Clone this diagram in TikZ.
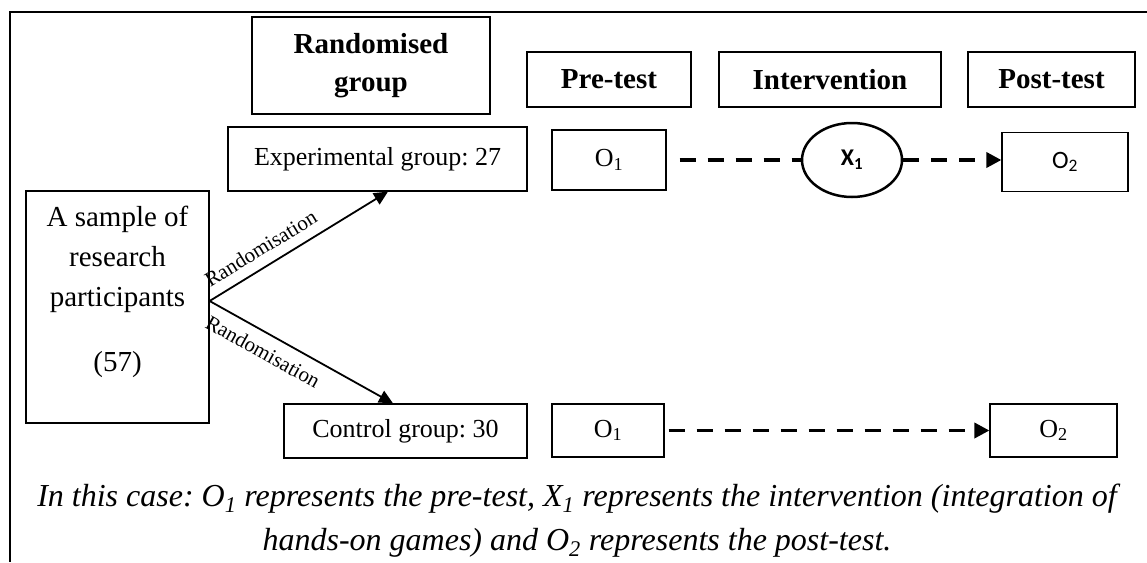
\documentclass[tikz,border=0pt]{standalone}
\usepackage{fontspec}
\setmainfont{Liberation Serif}
\newfontfamily\calibri{Carlito}
\usetikzlibrary{arrows.meta,shapes.geometric,calc}

\newcommand{\bodyfont}{\fontsize{26}{31}\selectfont}
\newcommand{\headfont}{\fontsize{29}{38}\selectfont\bfseries}

\begin{document}
\frenchspacing
\begin{tikzpicture}[x=1pt,y=-1pt,
  box/.style={draw,line width=1.2pt,inner sep=0pt,align=center},
  head/.style={box,font=\headfont},
  cell/.style={box,font=\bodyfont},
  flow/.style={line width=3.5pt,dash pattern=on 16pt off 12pt},
  split/.style={line width=1.8pt,-{Triangle[length=14pt,width=13pt]}},
  rlabel/.style={font=\fontsize{21}{22}\selectfont,sloped,inner sep=1pt},
  note/.style={font=\fontsize{32}{40}\selectfont\itshape,inner sep=0pt,anchor=base}]

\useasboundingbox (0,0) rectangle (1147,562);

% frame: top and left rules
\coordinate (ftl) at (10,12);
\coordinate (ftr) at (1147,12);
\coordinate (fbl) at (10,562);
\draw[line width=1.2pt] (ftr) -- (ftl) -- (fbl);

% column headings
\node[head,minimum width=238pt,minimum height=97pt] (rand) at (371,65.5) {Randomised\\group};
\node[head,minimum width=164pt,minimum height=55pt] (pre) at (609,79.5) {Pre-test};
\node[head,minimum width=222pt,minimum height=55pt] (intv) at (830,79.5) {Intervention};
\node[head,minimum width=167pt,minimum height=55pt] (post) at (1051.5,79.5) {Post-test};

% sample
\node[box,minimum width=183pt,minimum height=232pt] (sample) at (117.5,307) {};
\node[font=\fontsize{29}{40}\selectfont,align=center,inner sep=0pt] (sampletxt) at (117.5,292)
  {A sample of\\research\\participants\\[25pt](57)};

% experimental row
\node[cell,minimum width=299pt,minimum height=64pt] (exp) at (377.5,159) {Experimental group: 27};
\node[cell,minimum width=114pt,minimum height=60pt] (o1a) at (609,160) {O\textsubscript{1}};
\node[draw,ellipse,line width=2.5pt,minimum width=100pt,minimum height=74pt,inner sep=0pt,
      font=\calibri\bfseries\fontsize{24}{24}\selectfont] (x1) at (852,160) {X\textsubscript{1}};
\node[box,minimum width=126pt,minimum height=59pt,font=\calibri\fontsize{25}{25}\selectfont] (o2a) at (1065,162) {O\textsubscript{2}};

% control row
\node[cell,minimum width=243pt,minimum height=54pt] (ctrl) at (405.5,431) {Control group: 30};
\node[cell,minimum width=112pt,minimum height=53pt] (o1b) at (608,430.5) {O\textsubscript{1}};
\node[cell,minimum width=127pt,minimum height=53pt] (o2b) at (1053.5,430.5) {O\textsubscript{2}};

% randomisation arrows
\draw[split] ([yshift=6pt]sample.east) -- node[rlabel,pos=0.34,above=9pt] (ra) {Randomisation}
  ($(exp.south west)!0.535!(exp.south east)$);
\draw[split] ([yshift=6pt]sample.east) -- node[rlabel,pos=0.34,below=9pt] (rb) {Randomisation}
  ($(ctrl.north west)!0.449!(ctrl.north east)$);

% measurement flow
\draw[flow,shorten <=13pt] (o1a.east) -- (x1.west);
\draw[flow,-{Triangle[length=15pt,width=15pt]}] (x1.east) -- (o2a.west |- x1.east);
\draw[flow,shorten <=4pt,-{Triangle[length=15pt,width=15pt]}] (o1b.east) -- (o2b.west);

% caption, two centred lines
\node[note] (caption1) at (577,506)
  {In this case: O\textsubscript{1} represents the pre-test, X\textsubscript{1} represents the intervention (integration of};
\node[note] (caption2) at (577,550)
  {hands-on games) and O\textsubscript{2} represents the post-test.};
\end{tikzpicture}
\end{document}
